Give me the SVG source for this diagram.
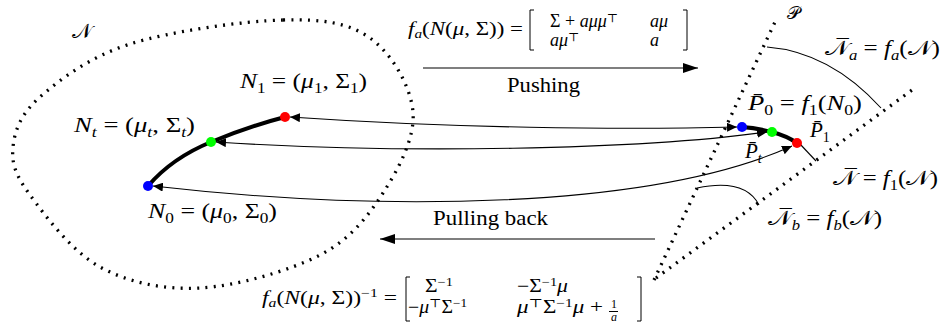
<svg xmlns="http://www.w3.org/2000/svg" width="945" height="325" viewBox="0 0 945 325">
<style>
text{font-family:"Liberation Serif","Times New Roman","DejaVu Serif",serif;fill:#000}
.m{font-size:21px}
.f{font-size:18px}
.mx{font-size:18px}
.i{font-style:italic}
.sb{font-size:14px}
.fs{font-size:12px}
.dot{fill:none;stroke:#000;stroke-width:3.3;stroke-dasharray:2 6.3}
.thin{fill:none;stroke:#000;stroke-width:1.1}
.thick{fill:none;stroke:#000;stroke-width:4}
.br{fill:none;stroke:#000;stroke-width:1}
.cal{font-family:"DejaVu Serif","Noto Sans",serif;font-style:normal}
</style>
<defs>
<marker id="ah" viewBox="0 0 10 9" refX="10" refY="4.5" markerWidth="10" markerHeight="9" markerUnits="userSpaceOnUse" orient="auto-start-reverse"><path d="M0,0 L10,4.5 L0,9 z" fill="#000"/></marker>
<marker id="ahL" viewBox="0 0 15 10" refX="15" refY="5" markerWidth="15" markerHeight="10" markerUnits="userSpaceOnUse" orient="auto"><path d="M0,0 L15,5 L0,10 z" fill="#000"/></marker>
</defs>

<g id="manifold-N">
<path class="dot" d="M283,20 C323,19 348.3,22.7 370,38 C391.7,53.3 410.8,86.2 413,112 C415.2,137.8 398.5,169.2 383,193 C367.5,216.8 350.5,239.2 320,255 C289.5,270.8 236.7,286 200,288 C163.3,290 128.3,282.5 100,267 C71.7,251.5 44.5,215 30,195 C15.5,175 11.3,163.3 13,147 C14.7,130.7 20.5,114.2 40,97 C59.5,79.8 89.5,56.8 130,44 C170.5,31.2 243,21 283,20 Z"/>
<text x="72" y="38" class="cal" font-size="21">𝒩</text>
</g>

<g id="plane-P">
<path class="dot" d="M654,280 L775,22"/>
<path class="dot" d="M656,278 L912,90"/>
<text x="787" y="19" class="cal" font-size="18">𝒫</text>
</g>

<g id="connectors">
<path class="thick" d="M148,186 Q172,158 211,142 T285,117"/>
<path class="thick" d="M742,127 Q757,128 772,132 T797,143"/>
<path class="thin" d="M290,117 C450,128 620,130 737,127" marker-start="url(#ah)" marker-end="url(#ah)"/>
<path class="thin" d="M216,142 C400,154 640,150 767,132" marker-start="url(#ah)" marker-end="url(#ah)"/>
<path class="thin" d="M153,186 C380,212 650,210 792,146" marker-start="url(#ah)" marker-end="url(#ah)"/>
<path class="thin" d="M423,68 L698,68" marker-end="url(#ahL)"/>
<path class="thin" d="M655,239 L380,239" marker-end="url(#ahL)"/>
<path class="thin" d="M767,47 Q830,52 881,108"/>
<path class="thin" d="M800,144 L816,161"/>
<path class="thin" d="M697,188 Q745,178 759,205"/>
</g>

<g id="N1">
<circle cx="285" cy="117" r="5" fill="#ff0000"/>
<text class="m" x="240" y="88" textLength="127" lengthAdjust="spacingAndGlyphs"><tspan class="i">N</tspan><tspan class="sb" dy="5">1</tspan><tspan dy="-5"> = (</tspan><tspan class="i">μ</tspan><tspan class="sb" dy="5">1</tspan><tspan dy="-5">, Σ</tspan><tspan class="sb" dy="5">1</tspan><tspan dy="-5">)</tspan></text>
</g>
<g id="Nt">
<circle cx="211" cy="142" r="5" fill="#00ff00"/>
<text class="m" x="74" y="132" textLength="121" lengthAdjust="spacingAndGlyphs"><tspan class="i">N</tspan><tspan class="sb i" dy="5">t</tspan><tspan dy="-5"> = (</tspan><tspan class="i">μ</tspan><tspan class="sb i" dy="5">t</tspan><tspan dy="-5">, Σ</tspan><tspan class="sb i" dy="5">t</tspan><tspan dy="-5">)</tspan></text>
</g>
<g id="N0">
<circle cx="148" cy="186" r="5" fill="#0000ff"/>
<text class="m" x="148" y="218" textLength="129" lengthAdjust="spacingAndGlyphs"><tspan class="i">N</tspan><tspan class="sb" dy="5">0</tspan><tspan dy="-5"> = (</tspan><tspan class="i">μ</tspan><tspan class="sb" dy="5">0</tspan><tspan dy="-5">, Σ</tspan><tspan class="sb" dy="5">0</tspan><tspan dy="-5">)</tspan></text>
</g>

<g id="P0">
<circle cx="742" cy="127" r="5" fill="#0000ff"/>
<text class="m" x="748" y="110" textLength="114" lengthAdjust="spacingAndGlyphs"><tspan class="i">P̄</tspan><tspan class="sb" dy="5">0</tspan><tspan dy="-5"> = </tspan><tspan class="i">f</tspan><tspan class="sb" dy="5">1</tspan><tspan dy="-5">(</tspan><tspan class="i">N</tspan><tspan class="sb" dy="5">0</tspan><tspan dy="-5">)</tspan></text>
</g>
<g id="Pt">
<circle cx="772" cy="132" r="5" fill="#00ff00"/>
<text class="m" x="745" y="158"><tspan class="i">P̄</tspan><tspan class="sb i" dy="5">t</tspan></text>
</g>
<g id="P1">
<circle cx="797" cy="143" r="5" fill="#ff0000"/>
<text class="m" x="810" y="137"><tspan class="i">P̄</tspan><tspan class="sb" dy="5">1</tspan></text>
</g>

<g id="label-Na">
<text class="m" x="825" y="55" textLength="115" lengthAdjust="spacingAndGlyphs"><tspan class="cal">𝒩̅</tspan><tspan class="sb i" dy="5">a</tspan><tspan dy="-5"> = </tspan><tspan class="i">f</tspan><tspan class="sb i" dy="5">a</tspan><tspan dy="-5">(</tspan><tspan class="cal">𝒩</tspan><tspan>)</tspan></text>
</g>
<g id="label-Nbar">
<text class="m" x="833" y="185" textLength="105" lengthAdjust="spacingAndGlyphs"><tspan class="cal">𝒩̅</tspan><tspan> = </tspan><tspan class="i">f</tspan><tspan class="sb" dy="5">1</tspan><tspan dy="-5">(</tspan><tspan class="cal">𝒩</tspan><tspan>)</tspan></text>
</g>
<g id="label-Nb">
<text class="m" x="768" y="225" textLength="114" lengthAdjust="spacingAndGlyphs"><tspan class="cal">𝒩̅</tspan><tspan class="sb i" dy="5">b</tspan><tspan dy="-5"> = </tspan><tspan class="i">f</tspan><tspan class="sb i" dy="5">b</tspan><tspan dy="-5">(</tspan><tspan class="cal">𝒩</tspan><tspan>)</tspan></text>
</g>

<g id="label-push">
<text class="m" x="507" y="92" textLength="73" lengthAdjust="spacingAndGlyphs">Pushing</text>
</g>
<g id="label-pull">
<text class="m" x="433" y="225" textLength="115" lengthAdjust="spacingAndGlyphs">Pulling back</text>
</g>

<g id="formula-push">
<text class="f" x="408" y="35" textLength="115" lengthAdjust="spacingAndGlyphs"><tspan class="i">f</tspan><tspan class="fs i" dy="3">a</tspan><tspan dy="-3">(</tspan><tspan class="i">N</tspan><tspan>(</tspan><tspan class="i">μ</tspan><tspan>, Σ)) =</tspan></text>
<path class="br" d="M534,10 L530,10 L530,50 L534,50"/>
<path class="br" d="M683,10 L687,10 L687,50 L683,50"/>
<text class="mx" x="550" y="27"><tspan>Σ + </tspan><tspan class="i">aμμ</tspan><tspan class="fs" dy="-5">⊤</tspan></text>
<text class="mx i" x="650" y="27">aμ</text>
<text class="mx" x="550" y="46"><tspan class="i">aμ</tspan><tspan class="fs" dy="-5">⊤</tspan></text>
<text class="mx i" x="650" y="46">a</text>
</g>

<g id="formula-pull">
<text class="f" x="262" y="304" textLength="135" lengthAdjust="spacingAndGlyphs"><tspan class="i">f</tspan><tspan class="fs i" dy="3">a</tspan><tspan dy="-3">(</tspan><tspan class="i">N</tspan><tspan>(</tspan><tspan class="i">μ</tspan><tspan>, Σ))</tspan><tspan class="fs" dy="-7">−1</tspan><tspan dy="7"> =</tspan></text>
<path class="br" d="M410,277 L406,277 L406,321 L410,321"/>
<path class="br" d="M637,277 L641,277 L641,321 L637,321"/>
<text class="mx" x="425" y="292" textLength="28" lengthAdjust="spacingAndGlyphs"><tspan>Σ</tspan><tspan class="fs" dy="-6">−1</tspan></text>
<text class="mx" x="517" y="292" textLength="51" lengthAdjust="spacingAndGlyphs"><tspan>−Σ</tspan><tspan class="fs" dy="-6">−1</tspan><tspan class="i" dy="6">μ</tspan></text>
<text class="mx" x="408" y="313" textLength="59" lengthAdjust="spacingAndGlyphs"><tspan>−</tspan><tspan class="i">μ</tspan><tspan class="fs" dy="-6">⊤</tspan><tspan dy="6">Σ</tspan><tspan class="fs" dy="-6">−1</tspan></text>
<text class="mx" x="517" y="313" textLength="86" lengthAdjust="spacingAndGlyphs"><tspan class="i">μ</tspan><tspan class="fs" dy="-6">⊤</tspan><tspan dy="6">Σ</tspan><tspan class="fs" dy="-6">−1</tspan><tspan class="i" dy="6">μ</tspan><tspan> +</tspan></text>
<text class="fs" x="611" y="308">1</text>
<path class="br" d="M609,311.5 L618,311.5" stroke-width="0.8"/>
<text class="fs i" x="611" y="321">a</text>
</g>
</svg>
